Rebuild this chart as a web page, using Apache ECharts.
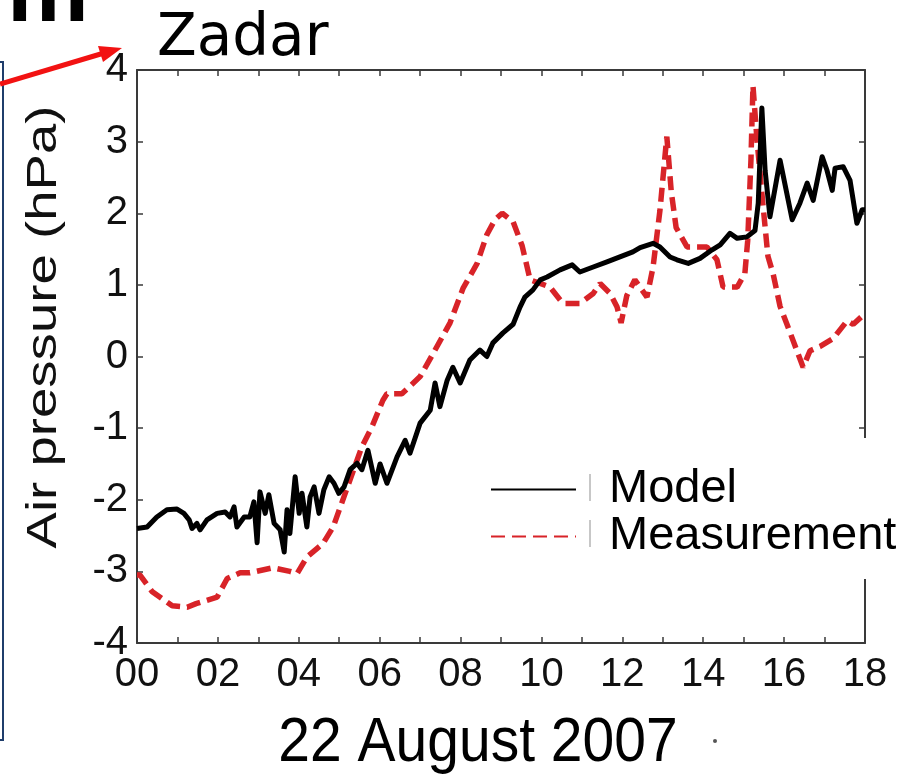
<!DOCTYPE html>
<html>
<head>
<meta charset="utf-8">
<script src="https://cdn.jsdelivr.net/npm/echarts@6/dist/echarts.min.js"></script>
<style>
  html, body { margin: 0; padding: 0; background: #ffffff; }
  #chart { width: 906px; height: 776px; }
</style>
</head>
<body>
<div id="chart"></div>
<script>
// Hour tick labels along the time axis (every second hour)
const hourLabels = ['00', '02', '04', '06', '08', '10', '12', '14', '16', '18'];
// Pressure ticks (hPa)
const pressureTicks = [-4, -3, -2, -1, 0, 1, 2, 3, 4];
const seriesNames = ['Model', 'Measurement'];

// Modelled air-pressure anomaly, Zadar, 22 August 2007
const modelHours = [
  0.00, 0.25, 0.49, 0.74, 0.99, 1.16, 1.29, 1.36, 1.48, 1.56, 1.73, 1.98,
  2.18, 2.30, 2.40, 2.47, 2.65, 2.79, 2.89, 2.97, 3.04, 3.17, 3.26, 3.39,
  3.54, 3.64, 3.71, 3.78, 3.91, 4.01, 4.08, 4.20, 4.28, 4.38, 4.50, 4.62,
  4.75, 4.87, 4.99, 5.12, 5.27, 5.44, 5.56, 5.71, 5.89, 6.01, 6.18, 6.43,
  6.63, 6.75, 7.00, 7.25, 7.37, 7.49, 7.67, 7.81, 7.99, 8.23, 8.48, 8.65,
  8.80, 9.05, 9.30, 9.47, 9.59, 9.79, 9.97, 10.14, 10.46, 10.76, 10.95, 11.28,
  11.62, 11.94, 12.26, 12.44, 12.76, 12.93, 13.18, 13.35, 13.63, 13.92, 14.22, 14.42,
  14.66, 14.84, 15.08, 15.28, 15.36, 15.45, 15.53, 15.65, 15.90, 16.20, 16.39, 16.57,
  16.72, 16.94, 17.06, 17.19, 17.26, 17.46, 17.63, 17.80, 17.93, 18.00
];
const modelPressure = [
  -2.40, -2.38, -2.24, -2.14, -2.13, -2.19, -2.28, -2.40, -2.33, -2.42, -2.28, -2.19,
  -2.17, -2.24, -2.10, -2.38, -2.24, -2.24, -2.03, -2.60, -1.89, -2.19, -1.93, -2.33,
  -2.42, -2.73, -2.14, -2.47, -1.68, -2.19, -1.91, -2.38, -1.96, -1.82, -2.19, -1.86,
  -1.68, -1.77, -1.91, -1.82, -1.58, -1.49, -1.58, -1.31, -1.77, -1.50, -1.77, -1.40,
  -1.17, -1.35, -0.93, -0.75, -0.37, -0.70, -0.33, -0.15, -0.37, -0.05, 0.09, 0.00,
  0.19, 0.33, 0.45, 0.69, 0.83, 0.93, 1.07, 1.11, 1.21, 1.28, 1.18, 1.25,
  1.32, 1.39, 1.46, 1.52, 1.58, 1.53, 1.39, 1.35, 1.30, 1.37, 1.49, 1.56,
  1.72, 1.65, 1.67, 1.76, 2.14, 3.47, 2.60, 1.95, 2.74, 1.91, 2.14, 2.42,
  2.18, 2.79, 2.60, 2.32, 2.63, 2.65, 2.46, 1.86, 2.05, 2.05
];

// Measured air-pressure anomaly
const measuredHours = [
  0.00, 0.07, 0.37, 0.87, 1.24, 1.46, 1.98, 2.23, 2.55, 2.79, 3.36, 3.78,
  3.96, 4.20, 4.60, 4.85, 5.56, 5.81, 6.08, 6.18, 6.55, 7.00, 7.32, 7.74,
  8.06, 8.41, 8.65, 8.85, 9.03, 9.30, 9.52, 9.72, 9.97, 10.21, 10.53, 10.95,
  11.28, 11.45, 11.70, 11.87, 11.97, 12.11, 12.31, 12.61, 12.76, 12.93, 13.10, 13.21,
  13.33, 13.60, 14.09, 14.34, 14.49, 14.84, 15.03, 15.10, 15.18, 15.23, 15.33, 15.48,
  15.60, 15.73, 15.90, 16.07, 16.27, 16.47, 16.64, 16.89, 17.21, 17.56, 17.71, 18.00
];
const measuredPressure = [
  -3.05, -3.05, -3.28, -3.48, -3.50, -3.45, -3.36, -3.10, -3.02, -3.02, -2.95, -3.00,
  -3.03, -2.80, -2.61, -2.38, -1.26, -0.98, -0.61, -0.52, -0.52, -0.28, 0.04, 0.47,
  0.95, 1.30, 1.70, 1.91, 2.00, 1.88, 1.55, 1.07, 1.02, 0.97, 0.74, 0.74,
  0.88, 1.02, 0.88, 0.69, 0.47, 0.85, 1.07, 0.83, 1.25, 2.04, 3.07, 2.30,
  1.80, 1.53, 1.53, 1.35, 0.97, 0.97, 1.16, 1.62, 2.74, 3.78, 3.02, 2.10,
  1.40, 1.15, 0.70, 0.45, 0.15, -0.15, 0.08, 0.14, 0.25, 0.50, 0.45, 0.60
];

const zip = (xs, ys) => xs.map((x, i) => [x, ys[i]]);

const FONT = '"Liberation Sans", Arial, sans-serif';
const axisColor = '#3a3a3a';

const baseX = {
  type: 'value', min: 0, max: 18, interval: 1,
  axisLine: { show: true, onZero: false, lineStyle: { color: axisColor, width: 2 } },
  axisTick: { show: true, inside: true, length: 6, lineStyle: { color: axisColor, width: 1.5 } },
  splitLine: { show: false }
};
const baseY = {
  type: 'value', min: -4, max: 4, interval: 1,
  axisLine: { show: true, onZero: false, lineStyle: { color: axisColor, width: 2 } },
  axisTick: { show: true, inside: true, length: 6, lineStyle: { color: axisColor, width: 1.5 } },
  splitLine: { show: false }
};

const chart = echarts.init(document.getElementById('chart'), null, { renderer: 'canvas' });

chart.setOption({
  backgroundColor: '#ffffff',
  animation: false,
  grid: { left: 137, right: 41, top: 70, bottom: 133, containLabel: false },
  xAxis: [
    Object.assign({}, baseX, {
      position: 'bottom',
      axisLabel: {
        show: true, margin: 12, color: '#111', fontFamily: FONT, fontSize: 40,
        formatter: v => (v % 2 === 0 ? hourLabels[v / 2] : '')
      }
    }),
    Object.assign({}, baseX, { position: 'top', axisLabel: { show: false } })
  ],
  yAxis: [
    Object.assign({}, baseY, {
      position: 'left',
      axisLabel: {
        show: true, margin: 9, color: '#111', fontFamily: FONT, fontSize: 40,
        formatter: v => (pressureTicks.indexOf(v) >= 0 ? String(v) : '')
      }
    }),
    Object.assign({}, baseY, { position: 'right', axisLabel: { show: false } })
  ],
  legend: {
    data: seriesNames,
    orient: 'vertical',
    left: 463, top: 438,
    padding: [28, 40, 19, 27],
    itemWidth: 85, itemHeight: 14, itemGap: 0,
    backgroundColor: '#ffffff',
    selectedMode: false,
    z: 10,
    itemStyle: { opacity: 0 },
    textStyle: { fontFamily: FONT, fontSize: 47, color: '#000', lineHeight: 45, padding: [0, 0, 0, 28] }
  },
  series: [
    {
      name: seriesNames[0], type: 'line', xAxisIndex: 0, yAxisIndex: 0,
      data: zip(modelHours, modelPressure),
      symbol: 'none', z: 3,
      lineStyle: { color: '#000000', width: 5, join: 'round' },
      itemStyle: { color: '#000000' }
    },
    {
      name: seriesNames[1], type: 'line', xAxisIndex: 0, yAxisIndex: 0,
      data: zip(measuredHours, measuredPressure),
      symbol: 'none', z: 2,
      lineStyle: { color: '#d82328', width: 5.5, type: [14, 7] },
      itemStyle: { color: '#d82328' }
    }
  ],
  graphic: [
    // frame edge of the neighbouring panel
    { type: 'polyline', z: 20, shape: { points: [[0, 62], [3, 62], [3, 740], [0, 740]] },
      style: { stroke: '#1f3d6b', lineWidth: 2, fill: null } },
    // panel letter (partly above the page)
    { type: 'text', z: 20, x: 7, y: -4,
      style: { text: 'm', font: 'bold 92px ' + FONT, fill: '#000',
               align: 'left', verticalAlign: 'middle', textAlign: 'left', textVerticalAlign: 'middle' } },
    // station name
    { type: 'text', z: 20, x: 157, y: 40,
      style: { text: 'Zadar', font: '58px "DejaVu Sans", sans-serif', fill: '#000',
               align: 'left', verticalAlign: 'middle', textAlign: 'left', textVerticalAlign: 'middle' } },
    // pointer arrow
    { type: 'line', z: 20, shape: { x1: 0, y1: 84, x2: 104, y2: 53 },
      style: { stroke: '#f21212', lineWidth: 5 } },
    { type: 'polygon', z: 20, shape: { points: [[122, 48], [103, 62], [98, 46]] },
      style: { fill: '#f21212' } },
    // y-axis title
    { type: 'text', z: 20, x: 44, y: 327, rotation: Math.PI / 2, scaleX: 1.3,
      style: { text: 'Air pressure (hPa)', font: '42px ' + FONT, fill: '#111',
               align: 'center', verticalAlign: 'middle', textAlign: 'center', textVerticalAlign: 'middle' } },
    // date under the time axis
    { type: 'text', z: 20, x: 478, y: 744, scaleY: 1.1,
      style: { text: '22 August 2007', font: '57px ' + FONT, fill: '#000',
               align: 'center', verticalAlign: 'middle', textAlign: 'center', textVerticalAlign: 'middle' } },
    { type: 'circle', z: 20, shape: { cx: 715, cy: 741, r: 2 }, style: { fill: '#555' } },
    // thin rules at the legend labels
    { type: 'line', z: 30, shape: { x1: 590, y1: 474, x2: 590, y2: 501 },
      style: { stroke: '#b5b5b5', lineWidth: 1.5 } },
    { type: 'line', z: 30, shape: { x1: 590, y1: 520, x2: 590, y2: 547 },
      style: { stroke: '#b5b5b5', lineWidth: 1.5 } }
  ]
});
</script>
</body>
</html>
